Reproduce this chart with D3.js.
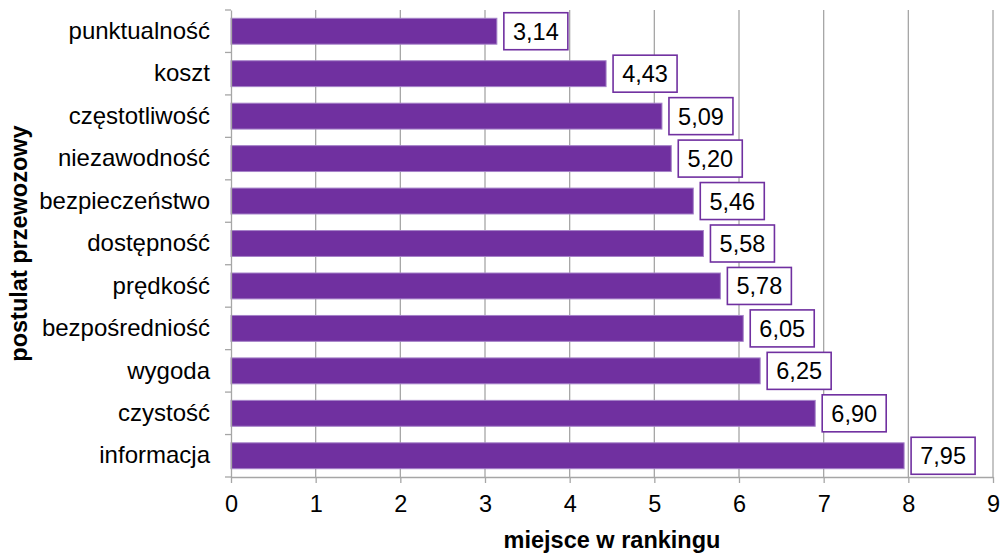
<!DOCTYPE html>
<html><head><meta charset="utf-8">
<script src="https://cdn.jsdelivr.net/npm/d3@7"></script>
<style>body{margin:0;background:#fff}svg{display:block}text{font-family:"Liberation Sans",Arial,sans-serif}</style>
</head><body>
<svg id="c" width="1002" height="553"></svg>
<script>
const categories = ["punktualność","koszt","częstotliwość","niezawodność","bezpieczeństwo","dostępność","prędkość","bezpośredniość","wygoda","czystość","informacja"];
const values = [3.14,4.43,5.09,5.20,5.46,5.58,5.78,6.05,6.25,6.90,7.95];
const xTicks = [0,1,2,3,4,5,6,7,8,9];
const xTitle = "miejsce w rankingu";
const yTitle = "postulat przewozowy";

const svg = d3.select("#c");
const m = {l:231, r:993, t:10, b:477};
const x = d3.scaleLinear().domain([0,9]).range([m.l,m.r]);
const y = d3.scaleBand().domain(categories).range([m.t,m.b]).paddingInner(0.39).paddingOuter(0.195);
const grid = "#a6a6a6";
const purple = "#7030a0";
const FF = "Liberation Sans, Arial, sans-serif";

// gridlines
svg.append("g").selectAll("line").data(xTicks.slice(1)).join("line")
  .attr("x1",d=>x(d)).attr("x2",d=>x(d)).attr("y1",m.t).attr("y2",m.b)
  .attr("stroke",grid).attr("stroke-width",1.3);

// bars
svg.append("g").selectAll("rect").data(values).join("rect")
  .attr("x",x(0)).attr("y",(d,i)=>y(categories[i]))
  .attr("width",d=>x(d)-x(0)).attr("height",y.bandwidth())
  .attr("fill",purple).attr("stroke","#a582c8").attr("stroke-width",1);

// axes
const xa = svg.append("g").attr("transform",`translate(0,${m.b})`)
  .call(d3.axisBottom(x).tickValues(xTicks).tickSize(6).tickSizeOuter(0).tickPadding(12).tickFormat(d3.format("d")));
xa.attr("font-size",23.5).attr("font-family",FF);
xa.select(".domain").attr("stroke",grid).attr("stroke-width",1.3);
xa.selectAll(".tick line").attr("stroke",grid).attr("stroke-width",1.3);
xa.selectAll(".tick text").style("font-size","23.5px").attr("fill","#000");

const ya = svg.append("g").attr("transform",`translate(${m.l},0)`)
  .call(d3.axisLeft(y).tickSize(0).tickPadding(21));
ya.attr("font-size",24).attr("font-family",FF);
ya.select(".domain").attr("stroke",grid).attr("stroke-width",1.3);
ya.selectAll(".tick text").style("font-size","24px").attr("fill","#000");
// category boundary ticks
const bounds = d3.range(categories.length+1).map(i=>m.t+(m.b-m.t)*i/categories.length);
svg.append("g").selectAll("line").data(bounds).join("line")
  .attr("x1",m.l-6).attr("x2",m.l).attr("y1",d=>d).attr("y2",d=>d)
  .attr("stroke",grid).attr("stroke-width",1.3);

// value labels
const fmt = d => d.toFixed(2).replace(".",",");
const lab = svg.append("g").selectAll("g").data(values).join("g")
  .attr("transform",(d,i)=>`translate(${x(d)+7},${y(categories[i])+y.bandwidth()/2})`);
lab.append("rect").attr("x",0).attr("y",-18.5).attr("width",64).attr("height",37)
  .attr("fill","#fff").attr("stroke",purple).attr("stroke-width",1.6);
lab.append("text").attr("x",32).attr("y",8.5).attr("text-anchor","middle")
  .style("font-size","23.5px").attr("fill","#000").text(fmt);

// titles
svg.append("text").attr("x",612).attr("y",548).attr("text-anchor","middle")
  .style("font-size","23.5px").attr("font-weight","bold").text(xTitle);
svg.append("text").attr("transform",`translate(27,${(m.t+m.b)/2}) rotate(-90)`)
  .attr("text-anchor","middle").style("font-size","23.5px").attr("font-weight","bold").text(yTitle);
</script>
</body></html>
